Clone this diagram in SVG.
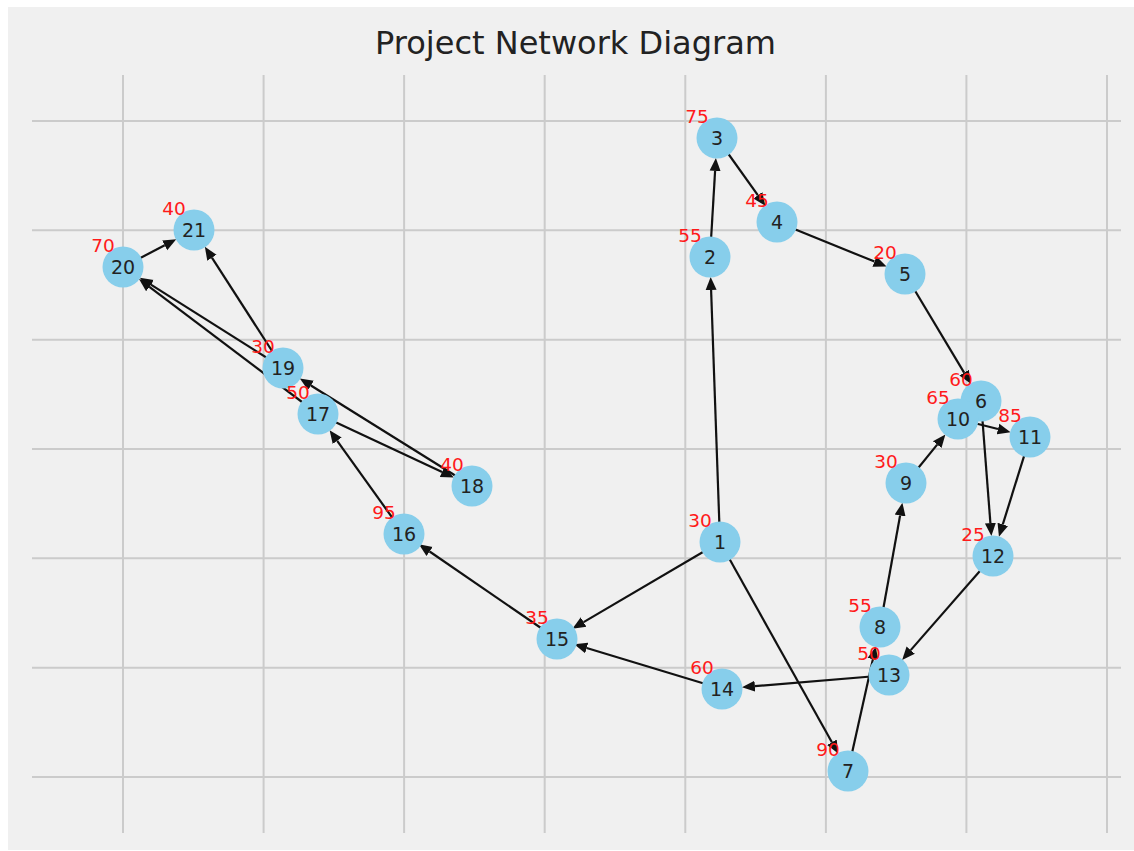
<svg xmlns="http://www.w3.org/2000/svg" width="1134" height="851" viewBox="0 0 1134 851">
<style>
.grid line{stroke:#cbcbcb;stroke-width:2}
.edges line{stroke:#111;stroke-width:2.2;marker-end:url(#ah)}
.node circle{fill:#87ceeb}
.node text{font-family:"DejaVu Sans",sans-serif;font-size:19px;fill:#222;text-anchor:middle}
.node text.w{fill:#ff1a1a;font-size:18.5px}
.title{font-family:"DejaVu Sans",sans-serif;font-size:32px;fill:#222;text-anchor:middle}
</style>
<defs>
<marker id="ah" markerUnits="userSpaceOnUse" markerWidth="15" markerHeight="13" viewBox="0 -6.5 15 13" refX="0" refY="0" orient="auto"><path d="M0,-5.5 L13,0 L0,5.5 z" fill="#111"/></marker>
</defs>
<rect x="0" y="0" width="1134" height="851" fill="#fff"/>
<rect x="8" y="7" width="1126" height="843" fill="#f0f0f0"/>
<text class="title" x="575.5" y="54">Project Network Diagram</text>
<g class="grid">
<line x1="123" y1="75" x2="123" y2="833"/>
<line x1="263.6" y1="75" x2="263.6" y2="833"/>
<line x1="404.1" y1="75" x2="404.1" y2="833"/>
<line x1="544.7" y1="75" x2="544.7" y2="833"/>
<line x1="685.3" y1="75" x2="685.3" y2="833"/>
<line x1="825.9" y1="75" x2="825.9" y2="833"/>
<line x1="966.4" y1="75" x2="966.4" y2="833"/>
<line x1="1107" y1="75" x2="1107" y2="833"/>
<line x1="32" y1="121" x2="1121" y2="121"/>
<line x1="32" y1="230.3" x2="1121" y2="230.3"/>
<line x1="32" y1="339.7" x2="1121" y2="339.7"/>
<line x1="32" y1="449" x2="1121" y2="449"/>
<line x1="32" y1="558.3" x2="1121" y2="558.3"/>
<line x1="32" y1="667.7" x2="1121" y2="667.7"/>
<line x1="32" y1="777" x2="1121" y2="777"/>
</g>
<g id="edges" class="edges">
<line x1="720" y1="542" x2="711.1" y2="290.0"/>
<line x1="710" y1="257" x2="715.1" y2="170.9"/>
<line x1="717" y1="138" x2="757.8" y2="195.2"/>
<line x1="777" y1="222" x2="874.5" y2="261.6"/>
<line x1="905" y1="274" x2="964.1" y2="372.6"/>
<line x1="981" y1="401" x2="990.4" y2="523.1"/>
<line x1="958" y1="419" x2="998.0" y2="429.0"/>
<line x1="1030" y1="437" x2="1002.8" y2="524.4"/>
<line x1="906" y1="483" x2="937.2" y2="444.6"/>
<line x1="880" y1="627" x2="900.1" y2="515.5"/>
<line x1="848" y1="771" x2="872.9" y2="659.2"/>
<line x1="993" y1="556" x2="910.7" y2="650.1"/>
<line x1="889" y1="675" x2="754.9" y2="686.2"/>
<line x1="722" y1="689" x2="586.7" y2="648.0"/>
<line x1="720" y1="542" x2="583.6" y2="622.1"/>
<line x1="720" y1="542" x2="831.9" y2="742.2"/>
<line x1="557" y1="639" x2="429.6" y2="551.5"/>
<line x1="404" y1="534" x2="337.2" y2="440.8"/>
<line x1="318" y1="414" x2="442.1" y2="472.0"/>
<line x1="472" y1="486" x2="310.9" y2="385.5"/>
<line x1="283" y1="368" x2="150.9" y2="284.6"/>
<line x1="318" y1="414" x2="149.4" y2="286.9"/>
<line x1="283" y1="368" x2="211.9" y2="257.7"/>
<line x1="123" y1="267" x2="164.7" y2="245.3"/>
</g>
<g id="n1" class="node"><circle cx="720" cy="542" r="20.5"/><text x="720" y="548.8">1</text></g>
<g id="n2" class="node"><circle cx="710" cy="257" r="20.5"/><text x="710" y="263.8">2</text></g>
<g id="n3" class="node"><circle cx="717" cy="138" r="20.5"/><text x="717" y="144.8">3</text></g>
<g id="n4" class="node"><circle cx="777" cy="222" r="20.5"/><text x="777" y="228.8">4</text></g>
<g id="n5" class="node"><circle cx="905" cy="274" r="20.5"/><text x="905" y="280.8">5</text></g>
<g id="n6" class="node"><circle cx="981" cy="401" r="20.5"/><text x="981" y="407.8">6</text></g>
<g id="n7" class="node"><circle cx="848" cy="771" r="20.5"/><text x="848" y="777.8">7</text></g>
<g id="n8" class="node"><circle cx="880" cy="627" r="20.5"/><text x="880" y="633.8">8</text></g>
<g id="n9" class="node"><circle cx="906" cy="483" r="20.5"/><text x="906" y="489.8">9</text></g>
<g id="n10" class="node"><circle cx="958" cy="419" r="20.5"/><text x="958" y="425.8">10</text></g>
<g id="n11" class="node"><circle cx="1030" cy="437" r="20.5"/><text x="1030" y="443.8">11</text></g>
<g id="n12" class="node"><circle cx="993" cy="556" r="20.5"/><text x="993" y="562.8">12</text></g>
<g id="n13" class="node"><circle cx="889" cy="675" r="20.5"/><text x="889" y="681.8">13</text></g>
<g id="n14" class="node"><circle cx="722" cy="689" r="20.5"/><text x="722" y="695.8">14</text></g>
<g id="n15" class="node"><circle cx="557" cy="639" r="20.5"/><text x="557" y="645.8">15</text></g>
<g id="n16" class="node"><circle cx="404" cy="534" r="20.5"/><text x="404" y="540.8">16</text></g>
<g id="n17" class="node"><circle cx="318" cy="414" r="20.5"/><text x="318" y="420.8">17</text></g>
<g id="n18" class="node"><circle cx="472" cy="486" r="20.5"/><text x="472" y="492.8">18</text></g>
<g id="n19" class="node"><circle cx="283" cy="368" r="20.5"/><text x="283" y="374.8">19</text></g>
<g id="n20" class="node"><circle cx="123" cy="267" r="20.5"/><text x="123" y="273.8">20</text></g>
<g id="n21" class="node"><circle cx="194" cy="230" r="20.5"/><text x="194" y="236.8">21</text></g>
<g id="weights" class="node">
<text class="w" x="700" y="527">30</text>
<text class="w" x="690" y="242">55</text>
<text class="w" x="697" y="123">75</text>
<text class="w" x="757" y="207">45</text>
<text class="w" x="885" y="259">20</text>
<text class="w" x="961" y="386">60</text>
<text class="w" x="828" y="756">90</text>
<text class="w" x="860" y="612">55</text>
<text class="w" x="886" y="468">30</text>
<text class="w" x="938" y="404">65</text>
<text class="w" x="1010" y="422">85</text>
<text class="w" x="973" y="541">25</text>
<text class="w" x="869" y="660">50</text>
<text class="w" x="702" y="674">60</text>
<text class="w" x="537" y="624">35</text>
<text class="w" x="384" y="519">95</text>
<text class="w" x="298" y="399">50</text>
<text class="w" x="452" y="471">40</text>
<text class="w" x="263" y="353">30</text>
<text class="w" x="103" y="252">70</text>
<text class="w" x="174" y="215">40</text>
</g>
</svg>
